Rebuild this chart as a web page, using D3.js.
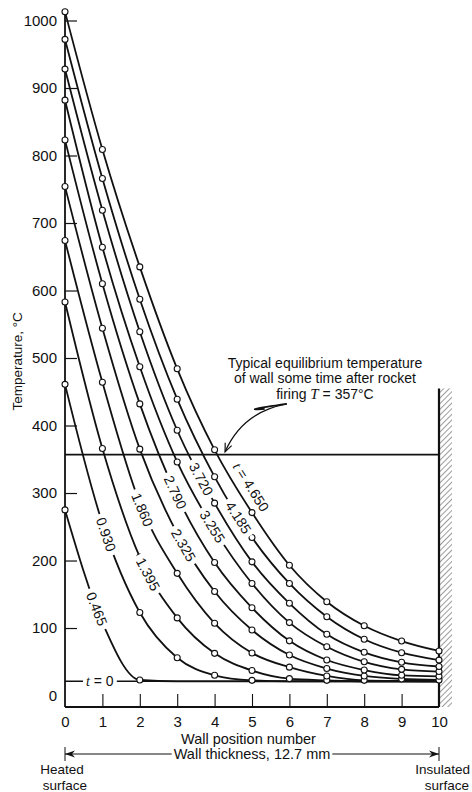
<!DOCTYPE html>
<html><head><meta charset="utf-8">
<script src="https://cdn.jsdelivr.net/npm/d3@7"></script>
<style>
body{margin:0;background:#fff}
text{font-family:"Liberation Sans",Arial,Helvetica,sans-serif;fill:#111}
</style>
</head><body>
<svg id="c" width="472" height="792"></svg>
<script>
// ---------------- data ----------------
const positions = [0,1,2,3,4,5,6,7,8,9,10];
const timeLabels = ["0.465","0.930","1.395","1.860","2.325","2.790","3.255","3.720","4.185","4.650"];
const T_0465 = [275,108,23,21,21,21,21,21,21,21,21];
const T_0930 = [461,255,123,56,30,22.5,21,21,21,21,21];
const T_1395 = [583,366,205,115,62.5,37,25,22.5,21,21,21];
const T_1860 = [674,464,285,181,107,63,42,29,22.5,21.5,21];
const T_2325 = [754,544,365,240,154,97,60,40,29,24.5,23];
const T_2790 = [823,610,432,295,197,130,81,52.6,37.8,30,28.5];
const T_3255 = [882,664,487,346,245,166,108,72.3,50,38.8,35.5];
const T_3720 = [928,719,539,393,285,198,136.6,90.7,64,49.2,43];
const T_4185 = [972,766,587,439,324,234,166,116.7,83.3,63.4,52.5];
const T_4650 = [1013,809,635,484,364,271,193,139,103.4,80.7,66];
const initialTemp = 21;
const equilibriumTemp = 357;
const yTickValues = [0,100,200,300,400,500,600,700,800,900,1000];
const xTickValues = [0,1,2,3,4,5,6,7,8,9,10];

// label anchor (position number along each curve)
const labelAt = [0.85,1.1,2.22,2.07,3.17,2.95,3.94,3.64,4.64,4.68];

// ---------------- chart ----------------
const svg = d3.select("#c");
const x = d3.scaleLinear().domain([0,10]).range([65,439]);
const y = d3.scaleLinear().domain([-17,1020]).range([707,7]);
const seriesValues = [T_0465,T_0930,T_1395,T_1860,T_2325,T_2790,T_3255,T_3720,T_4185,T_4650];
const series = timeLabels.map((t,i)=>({t, values: seriesValues[i], at: labelAt[i]}));

// wall hatch pattern
const defs = svg.append("defs");
const pat = defs.append("pattern").attr("id","hatch").attr("patternUnits","userSpaceOnUse")
  .attr("width",4).attr("height",4).attr("patternTransform","rotate(45)");
pat.append("line").attr("x1",0).attr("y1",0).attr("x2",0).attr("y2",4).attr("stroke","#222").attr("stroke-width",0.9);

const wallTop = 455;
svg.append("rect").attr("x",x(10)).attr("y",y(wallTop)).attr("width",13)
  .attr("height",y(-17)-y(wallTop)).attr("fill","url(#hatch)");
svg.append("line").attr("x1",x(10)).attr("x2",x(10)).attr("y1",y(wallTop)).attr("y2",y(-17))
  .attr("stroke","#111").attr("stroke-width",2.2);

// y axis
const yAxis = svg.append("g").attr("transform",`translate(${x(0)},0)`)
  .call(d3.axisLeft(y).tickValues(yTickValues).tickSize(-12).tickPadding(8).tickFormat(d3.format("d")));
yAxis.select(".domain").remove();
yAxis.selectAll(".tick line").attr("stroke","#111").attr("stroke-width",1.2)
  .filter(d=>d===0).remove();
yAxis.selectAll(".tick text").attr("font-size",15).attr("fill","#111")
  .style("font-family","'Liberation Sans',Arial,sans-serif");
svg.append("line").attr("x1",x(0)).attr("x2",x(0)).attr("y1",y(1020)+5).attr("y2",y(-17))
  .attr("stroke","#111").attr("stroke-width",1.8);

// x axis
const xAxis = svg.append("g").attr("transform",`translate(0,${y(-17)})`)
  .call(d3.axisBottom(x).tickValues(xTickValues).tickSize(-13).tickPadding(9).tickFormat(d3.format("d")));
xAxis.select(".domain").remove();
xAxis.selectAll(".tick line").attr("stroke","#111").attr("stroke-width",1.1)
  .filter(d=>d===0||d===10).remove();
xAxis.selectAll(".tick text").attr("font-size",15).attr("fill","#111")
  .style("font-family","'Liberation Sans',Arial,sans-serif");
svg.append("line").attr("x1",x(0)).attr("x2",x(10)).attr("y1",y(-17)).attr("y2",y(-17))
  .attr("stroke","#111").attr("stroke-width",2);

// axis title
svg.append("text").attr("transform",`translate(22,${y(495)}) rotate(-90)`)
  .attr("text-anchor","middle").attr("font-size",13.5).text("Temperature, °C");

// equilibrium line
svg.append("line").attr("x1",x(0)).attr("x2",x(10)).attr("y1",y(equilibriumTemp)).attr("y2",y(equilibriumTemp))
  .attr("stroke","#111").attr("stroke-width",1.8);

// t = 0 line
svg.append("line").attr("x1",x(0)).attr("x2",x(10)).attr("y1",y(initialTemp)).attr("y2",y(initialTemp))
  .attr("stroke","#111").attr("stroke-width",1.5);

// curves
const line = d3.line().x((d,i)=>x(positions[i])).y(d=>y(d)).curve(d3.curveMonotoneX);
const paths = svg.append("g").selectAll("path").data(series).join("path")
  .attr("d",d=>line(d.values)).attr("fill","none").attr("stroke","#111").attr("stroke-width",1.8);

// circles
const cg = svg.append("g");
series.forEach(s=>{
  s.values.forEach((v,i)=>{
    if(v>22) cg.append("circle").attr("cx",x(positions[i])).attr("cy",y(v)).attr("r",3)
      .attr("fill","#fff").attr("stroke","#111").attr("stroke-width",1.1);
  });
});

// label placement along curves
function locate(node, px){
  const L=node.getTotalLength(); let lo=0, hi=L;
  for(let k=0;k<40;k++){const m=(lo+hi)/2; if(node.getPointAtLength(m).x<px) lo=m; else hi=m;}
  const l=(lo+hi)/2, p=node.getPointAtLength(l);
  const a=node.getPointAtLength(Math.max(0,l-4)), b=node.getPointAtLength(Math.min(L,l+4));
  return {x:p.x,y:p.y,angle:Math.atan2(b.y-a.y,b.x-a.x)*180/Math.PI};
}
const lg = svg.append("g");
paths.each(function(d,i){
  const p = locate(this, x(d.at));
  const last = i===series.length-1;
  let cx=p.x, cy=p.y;
  if(last){ const r=p.angle*Math.PI/180; cx += 13*Math.sin(r); cy -= 13*Math.cos(r); }
  const g = lg.append("g").attr("transform",`translate(${cx},${cy}) rotate(${p.angle})`);
  const rect = g.append("rect");
  const t = g.append("text").attr("text-anchor","middle").attr("dominant-baseline","central").attr("font-size",14);
  if(last){
    t.append("tspan").attr("font-style","italic").style("font-family","'Liberation Serif',serif").text("t");
    t.append("tspan").text(" = "+d.t);
  } else t.text(d.t);
  const bb = t.node().getBBox();
  if(!last) rect.attr("x",bb.x-4).attr("y",-5).attr("width",bb.width+8).attr("height",10).attr("fill","#fff");
  else rect.remove();
});

// t = 0 label
{
  const g = svg.append("g").attr("transform",`translate(${x(0.93)},${y(initialTemp)})`);
  const rect = g.append("rect");
  const t = g.append("text").attr("text-anchor","middle").attr("dominant-baseline","central").attr("font-size",14);
  t.append("tspan").attr("font-style","italic").style("font-family","'Liberation Serif',serif").text("t");
  t.append("tspan").text(" = 0");
  const bb = t.node().getBBox();
  rect.attr("x",bb.x-3).attr("y",-4).attr("width",bb.width+6).attr("height",8).attr("fill","#fff");
}

// equilibrium annotation
const ey = y(equilibriumTemp);
const ann = svg.append("text").attr("text-anchor","middle").attr("font-size",14);
ann.append("tspan").attr("x",x(6.95)).attr("y",ey-87).text("Typical equilibrium temperature");
ann.append("tspan").attr("x",x(6.95)).attr("y",ey-71.5).text("of wall some time after rocket");
const l3 = ann.append("tspan").attr("x",x(6.95)).attr("y",ey-56);
l3.append("tspan").text("firing ");
l3.append("tspan").attr("font-style","italic").style("font-family","'Liberation Serif',serif").attr("font-size",15).text("T");
l3.append("tspan").text(" = 357°C");

const aS=[x(5.93),y(432)], aC=[x(4.75),y(420)], aT=[x(4.28),y(361)];
svg.append("path").attr("d",`M${aS[0]},${aS[1]} Q${aC[0]},${aC[1]} ${aT[0]},${aT[1]}`)
  .attr("fill","none").attr("stroke","#111").attr("stroke-width",1.3);
svg.append("path").attr("d",`M${aS[0]},${aS[1]} Q${aC[0]-6},${aC[1]-1} ${aS[0]-22},${aS[1]+5}`)
  .attr("fill","none").attr("stroke","#111").attr("stroke-width",1.6);
{
  const ang = Math.atan2(aT[1]-aC[1], aT[0]-aC[0]);
  const L=9, sp=0.4;
  const p1=[aT[0]-L*Math.cos(ang-sp), aT[1]-L*Math.sin(ang-sp)];
  const p2=[aT[0]-L*Math.cos(ang+sp), aT[1]-L*Math.sin(ang+sp)];
  svg.append("path").attr("d",`M${p1[0]},${p1[1]} L${aT[0]},${aT[1]} L${p2[0]},${p2[1]}`)
    .attr("fill","none").attr("stroke","#111").attr("stroke-width",1.2);
}

// bottom annotations
svg.append("text").attr("x",248.5).attr("y",744).attr("text-anchor","middle").attr("font-size",14.5).text("Wall position number");
const wt = svg.append("text").attr("x",252).attr("y",759).attr("text-anchor","middle").attr("font-size",14.5).text("Wall thickness, 12.7 mm");
{
  const bb = wt.node().getBBox(); const dy=754;
  svg.append("line").attr("x1",x(0)).attr("x2",bb.x-2).attr("y1",dy).attr("y2",dy).attr("stroke","#111").attr("stroke-width",1);
  svg.append("line").attr("x1",bb.x+bb.width+2).attr("x2",x(10)).attr("y1",dy).attr("y2",dy).attr("stroke","#111").attr("stroke-width",1);
  [x(0),x(10)].forEach((px,k)=>{
    svg.append("line").attr("x1",px).attr("x2",px).attr("y1",dy-7).attr("y2",dy+7).attr("stroke","#111").attr("stroke-width",1);
    const s = k===0?1:-1;
    svg.append("path").attr("d",`M${px+s*10},${dy-3.5} L${px},${dy} L${px+s*10},${dy+3.5} L${px+s*7},${dy} Z`).attr("fill","#111");
  });
}
svg.append("text").attr("x",x(0)-3).attr("y",774).attr("text-anchor","middle").attr("font-size",13.5).text("Heated");
svg.append("text").attr("x",x(0)).attr("y",790).attr("text-anchor","middle").attr("font-size",13.5).text("surface");
svg.append("text").attr("x",470).attr("y",774).attr("text-anchor","end").attr("font-size",13.5).text("Insulated");
svg.append("text").attr("x",469).attr("y",790).attr("text-anchor","end").attr("font-size",13.5).text("surface");
</script>
</body></html>
